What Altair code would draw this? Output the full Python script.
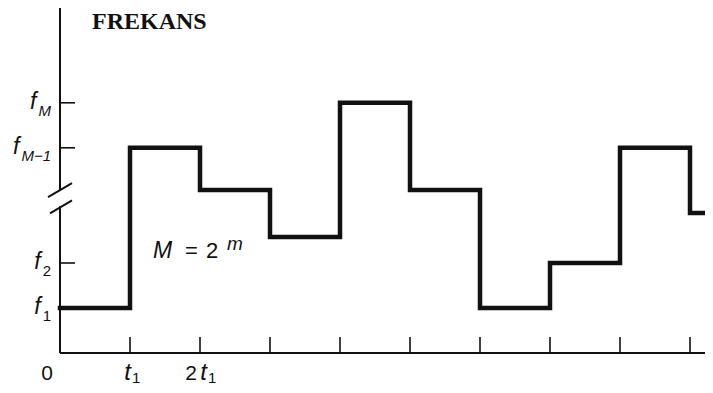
import altair as alt
import pandas as pd

# ---------------- data (time in units of t1) ----------------
HOP_TIME = [0, 1, 2, 3, 4, 5, 6, 7, 8, 9]
HOP_LEVEL = [1.0, 4.56, 3.62, 2.58, 5.56, 3.62, 1.0, 2.0, 4.56, 3.11]

Y_TICK_LEVEL = [1.0, 2.0, 4.56, 5.56]
Y_TICK_SUB = ["1", "2", "M−1", "M"]

X_TICKS = [1, 2, 3, 4, 5, 6, 7, 8, 9]

BREAK_LOW = 3.26    # axis break (between f2 and f(M-1))
BREAK_HIGH = 3.62

TITLE = "FREKANS"

# ---------------- layout ----------------
W, H = 645, 345
PX_X, PX_Y = 70.0, 45.0           # pixels per t1 and per level unit
XMAX, YMAX = W / PX_X, H / PX_Y
XS = alt.Scale(domain=[0, XMAX], nice=False, zero=False)
YS = alt.Scale(domain=[0, YMAX], nice=False, zero=False)
INK = "#111111"
SANS = "Liberation Sans"


def px_x(p):
    return p / PX_X


def px_y(p):
    return p / PX_Y


# step line
step_df = pd.DataFrame({"t": HOP_TIME + [XMAX], "level": HOP_LEVEL + [HOP_LEVEL[-1]]})
step = alt.Chart(step_df).mark_line(
    interpolate="step-after", strokeWidth=4.5, color=INK, strokeJoin="miter",
    strokeCap="square").encode(
    x=alt.X("t:Q", scale=XS, axis=None),
    y=alt.Y("level:Q", scale=YS, axis=None))

# axis lines and break slashes as segments
seg_rows = [
    (0, XMAX, 0, 0),                       # x axis
    (0, 0, 0, BREAK_LOW),                  # y axis lower part
    (0, 0, BREAK_HIGH, YMAX),              # y axis upper part
    (-px_x(12), px_x(12), BREAK_HIGH - px_y(7), BREAK_HIGH + px_y(7)),
    (-px_x(10), px_x(12), BREAK_LOW - px_y(7), BREAK_LOW + px_y(6)),
]
seg_df = pd.DataFrame(seg_rows, columns=["t", "t2", "level", "level2"])
segs = alt.Chart(seg_df).mark_rule(strokeWidth=2, color=INK).encode(
    x=alt.X("t:Q", scale=XS, axis=None), x2="t2:Q",
    y=alt.Y("level:Q", scale=YS, axis=None), y2="level2:Q")

# ticks (drawn inward)
xt_df = pd.DataFrame({"t": X_TICKS, "t2": X_TICKS, "level": [0] * len(X_TICKS),
                      "level2": [px_y(16)] * len(X_TICKS)})
yt_df = pd.DataFrame({"t": [0] * len(Y_TICK_LEVEL), "t2": [px_x(15)] * len(Y_TICK_LEVEL),
                      "level": Y_TICK_LEVEL, "level2": Y_TICK_LEVEL})
ticks = alt.Chart(pd.concat([xt_df, yt_df])).mark_rule(strokeWidth=1.6, color=INK).encode(
    x=alt.X("t:Q", scale=XS, axis=None), x2="t2:Q",
    y=alt.Y("level:Q", scale=YS, axis=None), y2="level2:Q")


def text_layer(t, level, s, size, italic=False, bold=False, font=SANS,
               align="left", dx=0, dy=0):
    df = pd.DataFrame({"t": [t], "level": [level], "s": [s]})
    kw = dict(fontSize=size, font=font, align=align, baseline="alphabetic",
              dx=dx, dy=dy, color=INK)
    if italic:
        kw["fontStyle"] = "italic"
    if bold:
        kw["fontWeight"] = "bold"
    return alt.Chart(df).mark_text(**kw).encode(
        x=alt.X("t:Q", scale=XS, axis=None),
        y=alt.Y("level:Q", scale=YS, axis=None),
        text="s:N")


CW = {"M": 0.833, "−": 0.584, "1": 0.556, "2": 0.556}
layers = [segs, ticks, step]

# y labels: f with subscript
for lev, sub in zip(Y_TICK_LEVEL, Y_TICK_SUB):
    sub_size = 15
    w = sum(CW.get(c, 0.6) for c in sub) * sub_size
    layers.append(text_layer(0, lev, sub, sub_size, italic=("M" in sub), align="right",
                             dx=-9, dy=13))
    layers.append(text_layer(0, lev, "f", 23, italic=True, align="right",
                             dx=-(11 + w), dy=6))

# x labels
layers.append(text_layer(0, 0, "0", 21, align="center", dx=-13, dy=27))
layers.append(text_layer(1, 0, "t", 24, italic=True, align="right", dx=1, dy=27))
layers.append(text_layer(1, 0, "1", 15, align="left", dx=2, dy=30))
layers.append(text_layer(2, 0, "2", 21, align="right", dx=-3, dy=27))
layers.append(text_layer(2, 0, "t", 24, italic=True, align="right", dx=7, dy=27))
layers.append(text_layer(2, 0, "1", 15, align="left", dx=8, dy=30))

# annotation M = 2^m
AX, AY = px_x(93), px_y(95)
layers.append(text_layer(AX, AY, "M", 23, italic=True, dx=0))
layers.append(text_layer(AX, AY, "=", 22, dx=32))
layers.append(text_layer(AX, AY, "2", 22, dx=53))
layers.append(text_layer(AX, AY, "m", 19, italic=True, dx=74, dy=-8))

# title
layers.append(text_layer(0, YMAX, TITLE, 24, bold=True, font="Liberation Serif",
                         dx=32, dy=21))

chart = alt.layer(*layers).properties(
    width=W, height=H,
    autosize=alt.AutoSizeParams(type="none"),
    padding={"left": 52, "top": 0, "right": 0, "bottom": 32},
    background="white",
).configure_view(strokeWidth=0)

chart.save("out.html", embed_options={"renderer": "svg", "actions": False})
